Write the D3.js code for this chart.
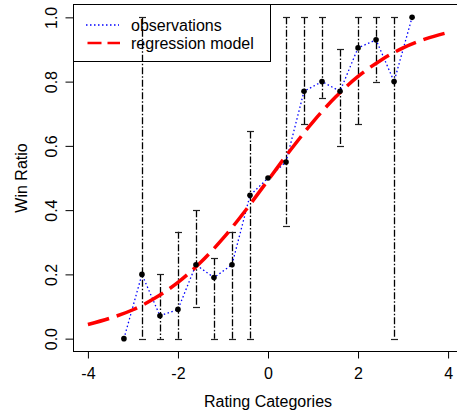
<!DOCTYPE html>
<html>
<head>
<meta charset="utf-8">
<script src="https://cdn.jsdelivr.net/npm/d3@7/dist/d3.min.js"></script>
<style>
  html, body { margin: 0; padding: 0; background: #fff; }
  svg { display: block; font-family: "Liberation Sans", Arial, sans-serif; }
</style>
</head>
<body>
<svg id="chart" width="457" height="415"></svg>
<script>
// Rating categories (x) and observed win ratios
const categories = [-3.2, -2.8, -2.4, -2.0, -1.6, -1.2, -0.8, -0.4, 0.0, 0.4, 0.8, 1.2, 1.6, 2.0, 2.4, 2.8, 3.2];
const winRatio   = [0.0, 0.2, 0.071, 0.091, 0.23, 0.19, 0.23, 0.446, 0.5, 0.55, 0.77, 0.80, 0.77, 0.905, 0.93, 0.80, 1.0];
// Confidence interval bounds per category (null = no interval drawn)
const ciLower = [null, 0, 0, 0, 0.1, 0, 0, 0, null, 0.35, 0.667, 0.75, 0.6, 0.667, 0.8, 0, null];
const ciUpper = [null, 1, 0.2, 0.333, 0.4, 0.25, 0.333, 0.645, null, 1, 1, 1, 0.9, 1, 1, 1, null];

// Fitted regression model, sampled along the rating axis
const modelX = [-4, -3.5, -3, -2.5, -2, -1.5, -1, -0.5, 0, 0.5, 1, 1.5, 2, 2.5, 3, 3.5, 4];
const modelY = [0.044, 0.064, 0.090, 0.127, 0.175, 0.237, 0.312, 0.399, 0.493, 0.587, 0.675, 0.752, 0.816, 0.866, 0.905, 0.933, 0.953];

const xTicks = [-4, -2, 0, 2, 4];
const yTicks = [0.0, 0.2, 0.4, 0.6, 0.8, 1.0];

const svg = d3.select("#chart");
const plotLeft = 73.5, plotTop = 4.5, plotBottom = 351.5, plotRight = 462.5;

const x = d3.scaleLinear().domain([-4.32, 4.32]).range([plotLeft, plotRight]);
const y = d3.scaleLinear().domain([-0.04, 1.04]).range([plotBottom, plotTop]);

// Plot frame
svg.append("rect")
  .attr("x", plotLeft).attr("y", plotTop)
  .attr("width", plotRight - plotLeft).attr("height", plotBottom - plotTop)
  .attr("fill", "none").attr("stroke", "#000").attr("stroke-width", 1);

// X axis
const xAxis = svg.append("g")
  .attr("transform", `translate(0,${plotBottom})`)
  .call(d3.axisBottom(x).tickValues(xTicks).tickSize(7).tickSizeOuter(0).tickPadding(8.7)
        .tickFormat(d => String(d)));
xAxis.select(".domain").remove();
xAxis.selectAll("line").attr("stroke", "#000");
xAxis.selectAll("text").attr("font-size", 16).attr("fill", "#000")
  .attr("font-family", "Liberation Sans, Arial, sans-serif");

// Y axis with rotated labels
const yAxis = svg.append("g")
  .attr("transform", `translate(${plotLeft},0)`)
  .call(d3.axisLeft(y).tickValues(yTicks).tickSize(8).tickSizeOuter(0)
        .tickFormat(d3.format(".1f")));
yAxis.select(".domain").remove();
yAxis.selectAll("line").attr("stroke", "#000");
yAxis.selectAll("text")
  .attr("x", null).attr("dy", null)
  .attr("transform", "translate(-16.6,0) rotate(-90)")
  .attr("text-anchor", "middle")
  .attr("font-size", 16).attr("fill", "#000")
  .attr("font-family", "Liberation Sans, Arial, sans-serif");

// Axis titles
svg.append("text")
  .attr("x", 268).attr("y", 406.5)
  .attr("text-anchor", "middle").attr("font-size", 16).attr("fill", "#000")
  .text("Rating Categories");
svg.append("text")
  .attr("transform", "translate(27.3,178) rotate(-90)")
  .attr("text-anchor", "middle").attr("font-size", 16).attr("fill", "#000")
  .text("Win Ratio");

// Error bars
const bars = categories.map((c, i) => ({ c, lo: ciLower[i], hi: ciUpper[i] }))
  .filter(d => d.lo !== null);
const capW = 3.5;
const px = d => Math.round(x(d.c)) + 0.5;
const eb = svg.append("g").attr("class", "errorbars");
eb.selectAll("line.stem").data(bars).join("line")
  .attr("class", "stem")
  .attr("x1", px).attr("x2", px)
  .attr("y1", d => y(d.hi)).attr("y2", d => y(d.lo))
  .attr("stroke", "#000").attr("stroke-width", 1.3)
  .attr("stroke-dasharray", "7,2,1.5,2");
eb.selectAll("line.capHi").data(bars).join("line")
  .attr("class", "capHi")
  .attr("x1", d => px(d) - capW).attr("x2", d => px(d) + capW)
  .attr("y1", d => Math.round(y(d.hi)) + 0.5).attr("y2", d => Math.round(y(d.hi)) + 0.5)
  .attr("stroke", "#222").attr("stroke-width", 1.2);
eb.selectAll("line.capLo").data(bars).join("line")
  .attr("class", "capLo")
  .attr("x1", d => px(d) - capW).attr("x2", d => px(d) + capW)
  .attr("y1", d => Math.round(y(d.lo)) + 0.5).attr("y2", d => Math.round(y(d.lo)) + 0.5)
  .attr("stroke", "#222").attr("stroke-width", 1.2);

// Observed ratios joined by a dotted line
const obs = categories.map((c, i) => [c, winRatio[i]]);
svg.append("path")
  .datum(obs)
  .attr("d", d3.line().x(d => x(d[0])).y(d => y(d[1])))
  .attr("fill", "none").attr("stroke", "#0000ff").attr("stroke-width", 1.3)
  .attr("stroke-dasharray", "1.5,2.5");

// Regression model curve
const model = modelX.map((v, i) => [v, modelY[i]]);
svg.append("path")
  .datum(model)
  .attr("d", d3.line().x(d => x(d[0])).y(d => y(d[1])).curve(d3.curveMonotoneX))
  .attr("fill", "none").attr("stroke", "#ff0000").attr("stroke-width", 3.5)
  .attr("stroke-dasharray", "22,8");

// Observation points
svg.append("g").selectAll("circle").data(obs).join("circle")
  .attr("cx", d => x(d[0])).attr("cy", d => y(d[1]))
  .attr("r", 2.8).attr("fill", "#000");

// Legend
const lg = svg.append("g");
lg.append("rect")
  .attr("x", plotLeft).attr("y", plotTop).attr("width", 270.5 - plotLeft).attr("height", 61.5 - plotTop)
  .attr("fill", "none").attr("stroke", "#000").attr("stroke-width", 1);
lg.append("line")
  .attr("x1", 86).attr("x2", 119).attr("y1", 25).attr("y2", 25)
  .attr("stroke", "#0000ff").attr("stroke-width", 1.3).attr("stroke-dasharray", "1.5,2.5");
lg.append("line")
  .attr("x1", 87.5).attr("x2", 120).attr("y1", 43).attr("y2", 43)
  .attr("stroke", "#ff0000").attr("stroke-width", 2.6).attr("stroke-dasharray", "14,6");
lg.append("text").attr("x", 131).attr("y", 31).attr("font-size", 16).attr("fill", "#000")
  .text("observations");
lg.append("text").attr("x", 131).attr("y", 49).attr("font-size", 16).attr("fill", "#000")
  .text("regression model");
</script>
</body>
</html>
